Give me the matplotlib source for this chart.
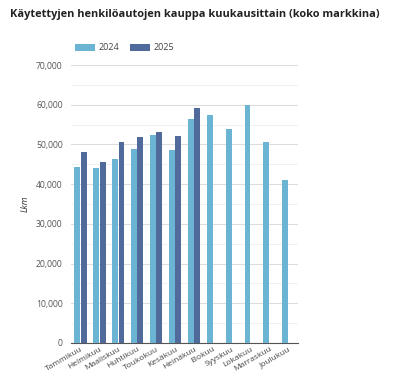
import matplotlib
matplotlib.use("Agg")
import matplotlib.pyplot as plt
import numpy as np
from matplotlib.ticker import FuncFormatter, MultipleLocator

months = ["Tammikuu", "Helmikuu", "Maaliskuu", "Huhtikuu", "Toukokuu", "Kesäkuu",
          "Heinäkuu", "Elokuu", "Syyskuu", "Lokakuu", "Marraskuu", "Joulukuu"]
sales_2024 = [44300, 44150, 46300, 48850, 52250, 48500, 56450, 57300, 53850, 60000, 50700, 41100]
sales_2025 = [48150, 45550, 50600, 51750, 53100, 52100, 59050]
series_labels = ["2024", "2025"]
colors = ["#6cb4d3", "#4f6a9b"]

plt.rcParams['font.family'] = ['Open Sans', 'DejaVu Sans']

fig = plt.figure(figsize=(4.09, 3.76), dpi=100)
ax = fig.add_axes([71/409, 1-343/376, 227/409, (343-65)/376])

x = np.arange(len(months))
w = 0.31
ax.bar(x[:len(sales_2024)] - w/2 - 0.015, sales_2024, width=w, color=colors[0], label=series_labels[0], zorder=3)
ax.bar(x[:len(sales_2025)] + w/2 + 0.015, sales_2025, width=w, color=colors[1], label=series_labels[1], zorder=3)

ax.set_xlim(-0.5, len(months) - 0.5)
ax.set_ylim(0, 70000)
ax.yaxis.set_major_locator(MultipleLocator(10000))
ax.yaxis.set_minor_locator(MultipleLocator(5000))
ax.yaxis.set_major_formatter(FuncFormatter(lambda v, p: f"{int(v):,}"))
ax.grid(axis='y', which='major', color='#dddddd', linewidth=0.8, zorder=0)
ax.grid(axis='y', which='minor', color='#eeeeee', linewidth=0.6, zorder=0)
ax.tick_params(axis='y', which='both', length=0, labelsize=6.2, labelcolor='#555555', pad=6)
ax.tick_params(axis='x', length=0, labelsize=6, labelcolor='#444444', pad=2)
ax.set_xticks(x)
ax.set_xticklabels(months, rotation=30, ha='right', rotation_mode='anchor')
for s in ['top', 'right', 'left']:
    ax.spines[s].set_visible(False)
ax.spines['bottom'].set_color('#555555')
ax.spines['bottom'].set_linewidth(0.8)

ax.set_ylabel("Lkm", fontsize=6.5, style='italic', color='#333333')
ax.yaxis.set_label_coords(-(71-30)/227, 0.5)

fig.text(10/409, 1-14/376, "Käytettyjen henkilöautojen kauppa kuukausittain (koko markkina)",
         fontsize=7.9, fontweight='bold', color='#222222', va='center', ha='left')

leg = fig.legend(loc='center left', bbox_to_anchor=(67/409, 1-48/376), ncol=2, frameon=False,
                 fontsize=6.5, handlelength=2.2, handleheight=0.9, columnspacing=1.2, handletextpad=0.4)
for t in leg.get_texts():
    t.set_color('#444444')

fig.savefig("out.png", dpi=100)
